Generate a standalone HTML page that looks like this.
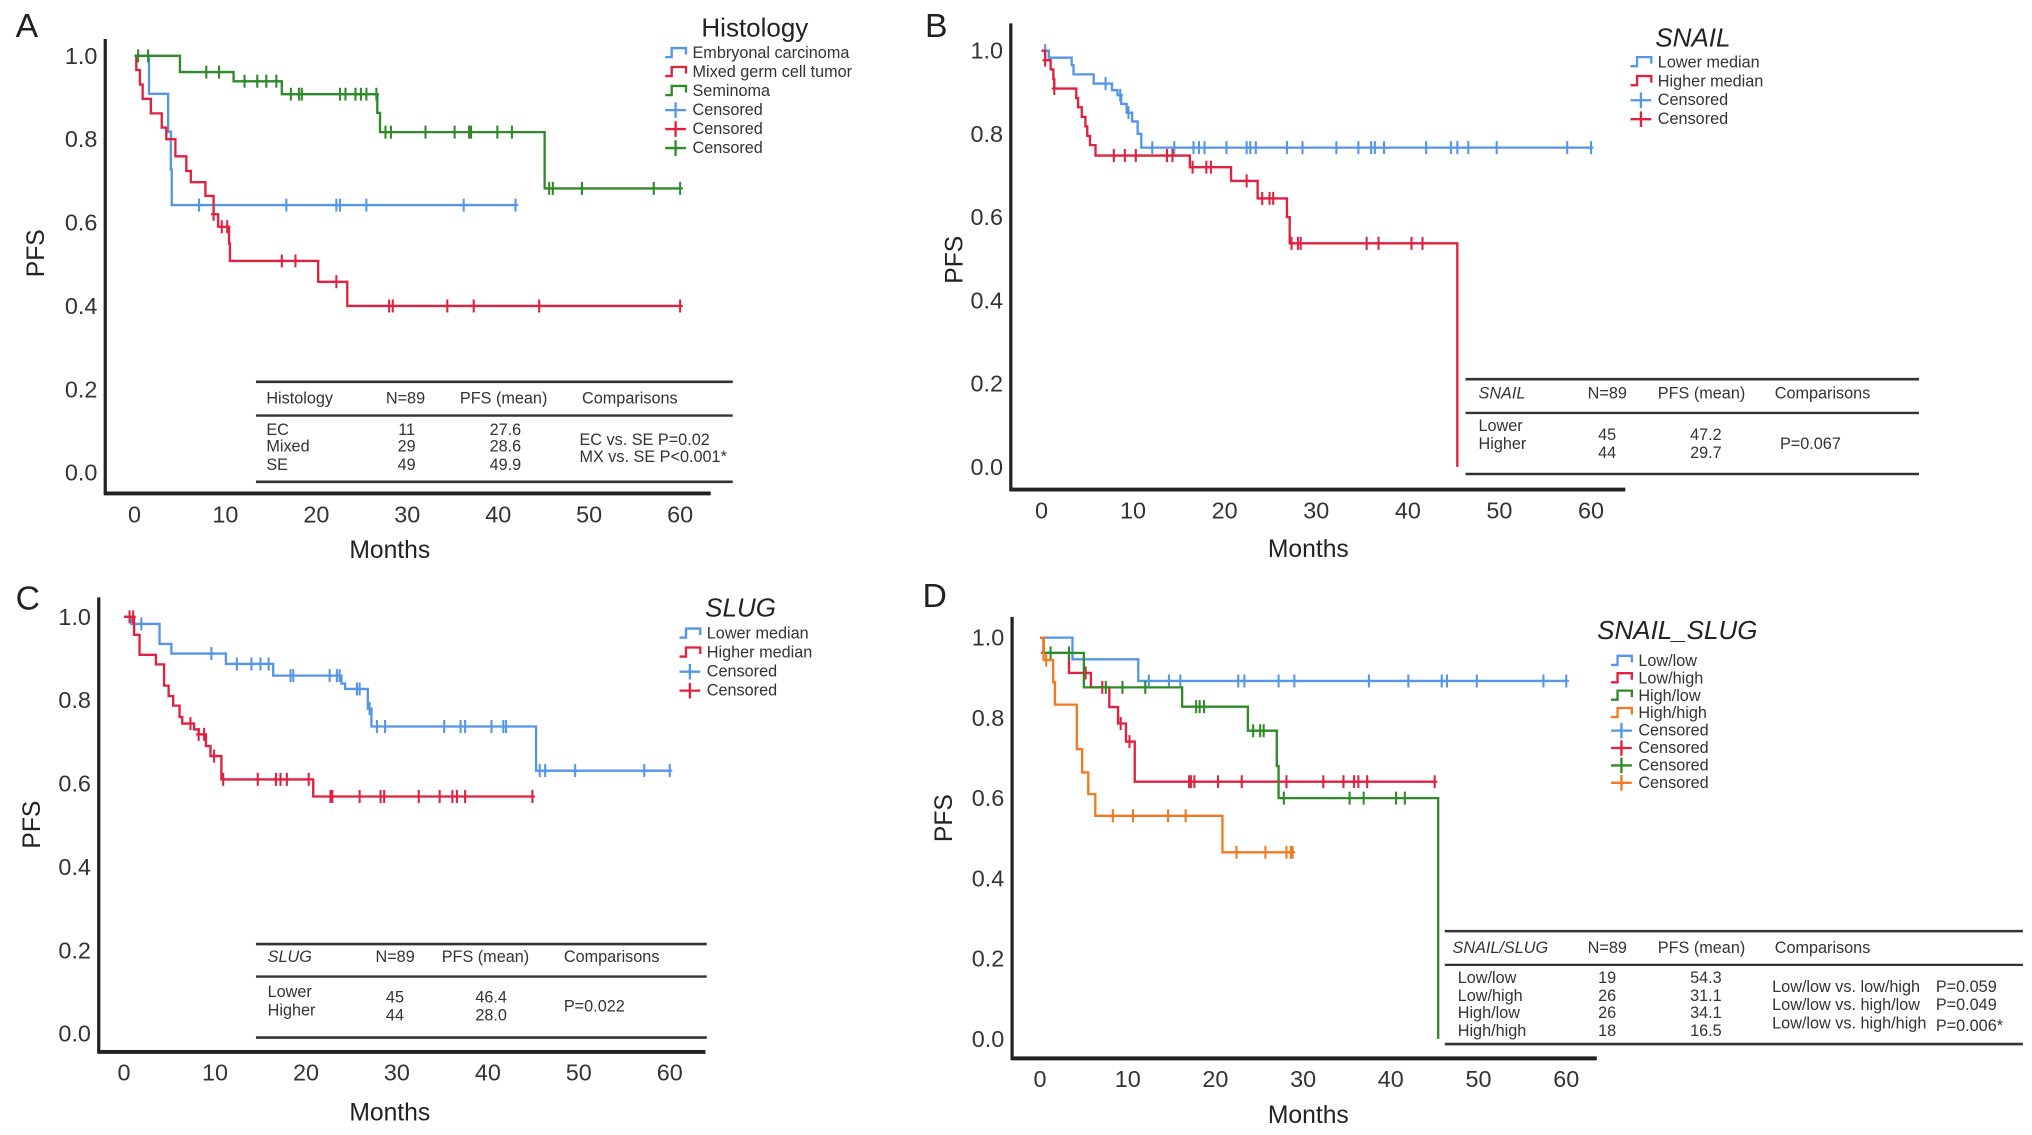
<!DOCTYPE html>
<html><head><meta charset="utf-8">
<style>
html,body{margin:0;padding:0;background:#fff;}
svg{display:block;font-family:"Liberation Sans",Arial,sans-serif;}
</style></head>
<body>
<svg id="fig" width="2032" height="1135" viewBox="0 0 1564 874" preserveAspectRatio="none" xmlns="http://www.w3.org/2000/svg"></svg>
<script>
// ---------- Panel A data (Histology) ----------
const aEcT=[1.6,3.7,4.0,4.1];          const aEcS=[0.909,0.818,0.727,0.642]; const aEcEnd=42;
const aEcC=[7.1,16.7,22.2,22.6,25.5,36.2,41.9];
const aMxT=[0.2,0.6,0.9,1.8,3.0,3.5,4.5,5.7,6.2,7.8,8.7,9.2,10.4,10.5,20.2,23.4];
const aMxS=[0.966,0.931,0.897,0.862,0.828,0.800,0.759,0.724,0.697,0.664,0.620,0.590,0.550,0.508,0.458,0.400]; const aMxEnd=60;
const aMxC=[8.7,9.6,10.2,16.2,17.7,22.2,28,28.4,34.4,37.3,44.5,60];
const aSeT=[5.0,10.9,16.2,26.7,27.0,45.1]; const aSeS=[0.961,0.939,0.908,0.863,0.817,0.682]; const aSeEnd=60;
const aSeC=[0.4,1.5,7.9,9.3,12.1,13.5,14.5,15.6,17.2,18.1,18.4,22.6,23.2,24.3,24.9,25.5,26.6,27.6,28.2,32,35.2,36.8,37,39.9,41.5,45.6,46,49.2,57.1,60];
// ---------- Panel B data (SNAIL) ----------
const bLoT=[0.8,3.3,3.5,5.7,7.7,8.3,8.7,9.3,9.9,10.5,10.9];
const bLoS=[0.983,0.965,0.943,0.921,0.905,0.893,0.872,0.851,0.830,0.800,0.767]; const bLoEnd=60;
const bLoC=[0.4,7,8.6,9.5,12.1,14.5,16.6,17.2,17.8,20.2,22.4,22.8,23.4,26.8,28.5,32.2,34.6,36,36.4,37.4,42,44.7,45.4,46.6,49.7,57.4,60];
const bHiT=[0.4,1.0,1.3,1.4,3.8,4.0,4.4,4.8,5.0,5.3,5.9,16.2,20.7,23.6,26.8,27.1,45.4];
const bHiS=[0.977,0.955,0.932,0.909,0.886,0.864,0.841,0.818,0.795,0.773,0.748,0.720,0.687,0.645,0.600,0.537,0.0]; const bHiEnd=45.4;
const bHiC=[0.4,1.4,7.9,9.1,10.3,13.7,14.3,16.5,18,18.5,22.4,24.1,24.9,25.3,27.3,28,28.3,35.5,36.8,40.4,41.6];
// ---------- Panel C data (SLUG) ----------
const cLoT=[0.8,3.9,5.2,11.2,16.4,23.9,24.3,26.8,27.2,45.3];
const cLoS=[0.983,0.935,0.912,0.887,0.859,0.840,0.827,0.780,0.737,0.631]; const cLoEnd=60;
const cLoC=[1.9,9.6,12.4,14,15,15.9,18.3,18.6,22.6,23.4,23.7,25.6,25.9,27,27.8,28.7,35.2,37,37.5,40.4,41.7,42,45.7,46.3,49.6,57.2,60];
const cHiT=[1.1,1.7,3.5,4.4,4.9,5.4,6.1,6.4,7.7,8.2,9.0,9.5,10.7,20.8];
const cHiS=[0.957,0.909,0.886,0.835,0.810,0.787,0.760,0.744,0.730,0.718,0.690,0.666,0.610,0.569]; const cHiEnd=44.9;
const cHiC=[0.6,1.0,7.3,8.2,8.8,9.9,10.9,14.7,16.7,17.2,17.9,20.3,22.7,22.9,25.9,28.2,28.6,32.4,34.7,36.1,36.6,37.5,44.9];
// ---------- Panel D data (SNAIL_SLUG) ----------
const dLLT=[3.7,11.2]; const dLLS=[0.946,0.892]; const dLLEnd=60;
const dLLC=[12.4,14.7,16,22.6,23.3,27.2,29,37.5,42,45.8,46.4,49.8,57.4,60];
const dLHT=[0.4,3.3,5.8,7.9,8.9,9.8,10.8]; const dLHS=[0.962,0.912,0.876,0.827,0.786,0.741,0.641]; const dLHEnd=45;
const dLHC=[0.4,5.2,7.1,9.2,10.2,17,17.2,17.6,20.3,23,28.1,32.3,34.6,35.8,36.3,37.3,45];
const dHLT=[0.4,5.0,16.2,23.7,27.0,27.2,45.4]; const dHLS=[0.962,0.876,0.828,0.768,0.680,0.600,0.0]; const dHLEnd=45.4;
const dHLC=[1.2,3.3,7.5,9.4,12,17.8,18.2,18.7,24.3,25.1,25.5,27.8,35.3,36.9,40.6,41.6];
const dHHT=[0.4,1.5,1.7,4.2,4.8,5.5,6.3,20.8]; const dHHS=[0.944,0.889,0.833,0.722,0.664,0.610,0.556,0.465]; const dHHEnd=28.8;
const dHHC=[0.7,8.3,10.6,14.6,16.6,22.4,25.7,28.1,28.6,28.8];
// ---------- axis ticks ----------
const xTicks=[0,10,20,30,40,50,60];
const yTicks=[0,0.2,0.4,0.6,0.8,1.0];
const yTickLabels=["0.0","0.2","0.4","0.6","0.8","1.0"];

const BLUE="#5596e6",RED="#e0213f",GREEN="#2f8a2a",ORANGE="#f07a22",INK="#222";
const svg=document.getElementById('fig');
const NS="http://www.w3.org/2000/svg";
function mk(tag,attrs,parent){const e=document.createElementNS(NS,tag);for(const k in attrs)e.setAttribute(k,attrs[k]);(parent||svg).appendChild(e);return e;}
function txt(s,x,y,size,parent,opts){opts=opts||{};const e=mk('text',{x:x,y:y,'font-size':size,fill:opts.fill||INK,'text-anchor':opts.anchor||'start','dominant-baseline':'central'},parent);if(opts.italic)e.setAttribute('font-style','italic');if(opts.rot)e.setAttribute('transform','rotate(-90 '+x+' '+y+')');e.textContent=s;return e;}

function panel(p){
  const g=mk('g',{});
  
  
  const X=t=>p.x0+p.xs*t, Y=s=>p.y0-(p.y0-p.y1)*s;
  const lt=txt(p.id,p.letX,p.letY,26,g);
  
  
  const ya=mk('line',{x1:p.ax,y1:p.top,x2:p.ax,y2:p.bot+1,stroke:INK,'stroke-width':2.5},g);
  
  
  const xa=mk('line',{x1:p.ax-1,y1:p.bot,x2:p.right,y2:p.bot,stroke:INK,'stroke-width':3},g);
  
  
  xTicks.forEach(t=>{const e=txt(String(t),X(t),p.bot+16,18,g,{anchor:'middle',fill:'#333'});
    
    });
  yTicks.forEach((v,i)=>{const e=txt(yTickLabels[i],p.ax-6,Y(v),18,g,{anchor:'end',fill:'#333'});
    
    });
  const mt=txt('Months',p.mX,p.mY,19,g,{anchor:'middle'});
  
  
  const pt=txt('PFS',p.pX,p.pY,19,g,{anchor:'middle',rot:true});
  
  
  p.series.forEach(s=>{
    let d='M'+X(0)+','+Y(1);
    for(let i=0;i<s.t.length;i++){d+=' H'+X(s.t[i])+' V'+Y(s.s[i]);}
    d+=' H'+X(s.end);
    const path=mk('path',{d:d,fill:'none',stroke:s.c,'stroke-width':1.8},g);
    
    
    const surv=t=>{let v=1;for(let i=0;i<s.t.length;i++){if(s.t[i]<=t)v=s.s[i];}return v;};
    s.cen.forEach(t=>{const cx=X(t),cy=Y(surv(t));
      const m=mk('path',{d:'M'+cx+','+(cy-5)+' V'+(cy+5)+' M'+(cx-2)+','+cy+' H'+(cx+2),stroke:s.c,'stroke-width':1.6,fill:'none'},g);
      
      });
  });
  const lg=mk('g',{},g);
  
  
  txt(p.legTitle,p.legTX,p.legTY,20,lg,{anchor:'middle',italic:p.legItalic});
  p.series.forEach((s,i)=>{const y=p.legY0+i*p.legDy,x=p.legX;
    mk('path',{d:'M'+x+','+(y+3)+' h5 v-7 h11 v5',stroke:s.c,'stroke-width':1.8,fill:'none'},lg);
    const e=txt(s.label,x+21,y,12.5,lg,{fill:'#333'});
    
    });
  p.series.forEach((s,i)=>{const y=p.legY0+(p.series.length+i)*p.legDy,x=p.legX;
    mk('path',{d:'M'+x+','+y+' h16 M'+(x+8)+','+(y-6)+' v12',stroke:s.c,'stroke-width':1.8,fill:'none'},lg);
    const e=txt('Censored',x+21,y,12.5,lg,{fill:'#333'});
    
    });
  const tb=mk('g',{},g);
  
  
  const T=p.tab;
  [T.l1,T.l2,T.l3].forEach((y,i)=>mk('line',{x1:T.x1,x2:T.x2,y1:y,y2:y,stroke:'#333','stroke-width':i==1?1.8:2},tb));
  T.head.forEach((h,i)=>txt(h,T.cols[i],T.hy,12.5,tb,{italic:i==0&&T.ital,fill:'#333'}));
  T.cells.forEach(c=>txt(c[0],c[1],c[2],12.5,tb,{fill:'#333',anchor:c[3]||'start'}));
}

panel({id:'A',letX:12,letY:20,ax:81,top:30,bot:380,right:547,x0:103.5,xs:7.0,y1:43,y0:364,
  mX:300,mY:424,pX:28,pY:195,legTitle:'Histology',legTX:581,legTY:21,legX:512,legY0:41,legDy:14.6,
  series:[{n:'embryonal',label:'Embryonal carcinoma',c:BLUE,t:aEcT,s:aEcS,end:aEcEnd,cen:aEcC},
          {n:'mixed',label:'Mixed germ cell tumor',c:RED,t:aMxT,s:aMxS,end:aMxEnd,cen:aMxC},
          {n:'seminoma',label:'Seminoma',c:GREEN,t:aSeT,s:aSeS,end:aSeEnd,cen:aSeC}],
  tab:{x1:197,x2:564,l1:294,l2:320,l3:371,hy:307,ital:false,cols:[205,297,354,448],head:['Histology','N=89','PFS (mean)','Comparisons'],
    cells:[['EC',205,331],['Mixed',205,344],['SE',205,358],['11',313,331,'middle'],['29',313,344,'middle'],['49',313,358,'middle'],
      ['27.6',389,331,'middle'],['28.6',389,344,'middle'],['49.9',389,358,'middle'],['EC vs. SE P=0.02',446,339],['MX vs. SE P<0.001*',446,352]]}});

panel({id:'B',letX:712,letY:20,ax:778,top:18,bot:377,right:1251,x0:801.6,xs:7.05,y1:39,y0:359.5,
  mX:1007,mY:423,pX:735,pY:200,legTitle:'SNAIL',legItalic:true,legTX:1303,legTY:29,legX:1255,legY0:48,legDy:14.6,
  series:[{n:'lower',label:'Lower median',c:BLUE,t:bLoT,s:bLoS,end:bLoEnd,cen:bLoC},
          {n:'higher',label:'Higher median',c:RED,t:bHiT,s:bHiS,end:bHiEnd,cen:bHiC}],
  tab:{x1:1128,x2:1477,l1:292,l2:318,l3:365,hy:303,ital:true,cols:[1138,1222,1276,1366],head:['SNAIL','N=89','PFS (mean)','Comparisons'],
    cells:[['Lower',1138,328],['Higher',1138,342],['45',1237,335,'middle'],['44',1237,349,'middle'],['47.2',1313,335,'middle'],['29.7',1313,349,'middle'],['P=0.067',1370,342]]}});

panel({id:'C',letX:12,letY:461,ax:76,top:460,bot:810,right:543,x0:95.5,xs:7.0,y1:475,y0:796,
  mX:300,mY:857,pX:25,pY:635,legTitle:'SLUG',legItalic:true,legTX:570,legTY:468,legX:523,legY0:488,legDy:14.6,
  series:[{n:'lower',label:'Lower median',c:BLUE,t:cLoT,s:cLoS,end:cLoEnd,cen:cLoC},
          {n:'higher',label:'Higher median',c:RED,t:cHiT,s:cHiS,end:cHiEnd,cen:cHiC}],
  tab:{x1:197,x2:544,l1:727,l2:752,l3:799,hy:737,ital:true,cols:[206,289,340,434],head:['SLUG','N=89','PFS (mean)','Comparisons'],
    cells:[['Lower',206,764],['Higher',206,778],['45',304,768,'middle'],['44',304,782,'middle'],['46.4',378,768,'middle'],['28.0',378,782,'middle'],['P=0.022',434,775]]}});

panel({id:'D',letX:710,letY:459,ax:779,top:475,bot:815,right:1229,x0:800.5,xs:6.75,y1:491,y0:800,
  mX:1007,mY:859,pX:727,pY:630,legTitle:'SNAIL_SLUG',legItalic:true,legTX:1291,legTY:485,legX:1240,legY0:509,legDy:13.4,
  series:[{n:'low-low',label:'Low/low',c:BLUE,t:dLLT,s:dLLS,end:dLLEnd,cen:dLLC},
          {n:'low-high',label:'Low/high',c:RED,t:dLHT,s:dLHS,end:dLHEnd,cen:dLHC},
          {n:'high-low',label:'High/low',c:GREEN,t:dHLT,s:dHLS,end:dHLEnd,cen:dHLC},
          {n:'high-high',label:'High/high',c:ORANGE,t:dHHT,s:dHHS,end:dHHEnd,cen:dHHC}],
  tab:{x1:1112,x2:1557,l1:717,l2:743,l3:804,hy:730,ital:true,cols:[1118,1222,1276,1366],head:['SNAIL/SLUG','N=89','PFS (mean)','Comparisons'],
    cells:[['Low/low',1122,753],['Low/high',1122,767],['High/low',1122,780],['High/high',1122,794],
      ['19',1237,753,'middle'],['26',1237,767,'middle'],['26',1237,780,'middle'],['18',1237,794,'middle'],
      ['54.3',1313,753,'middle'],['31.1',1313,767,'middle'],['34.1',1313,780,'middle'],['16.5',1313,794,'middle'],
      ['Low/low vs. low/high',1364,760],['Low/low vs. high/low',1364,774],['Low/low vs. high/high',1364,788],
      ['P=0.059',1490,760],['P=0.049',1490,774],['P=0.006*',1490,790]]}});
</script>
</body></html>
